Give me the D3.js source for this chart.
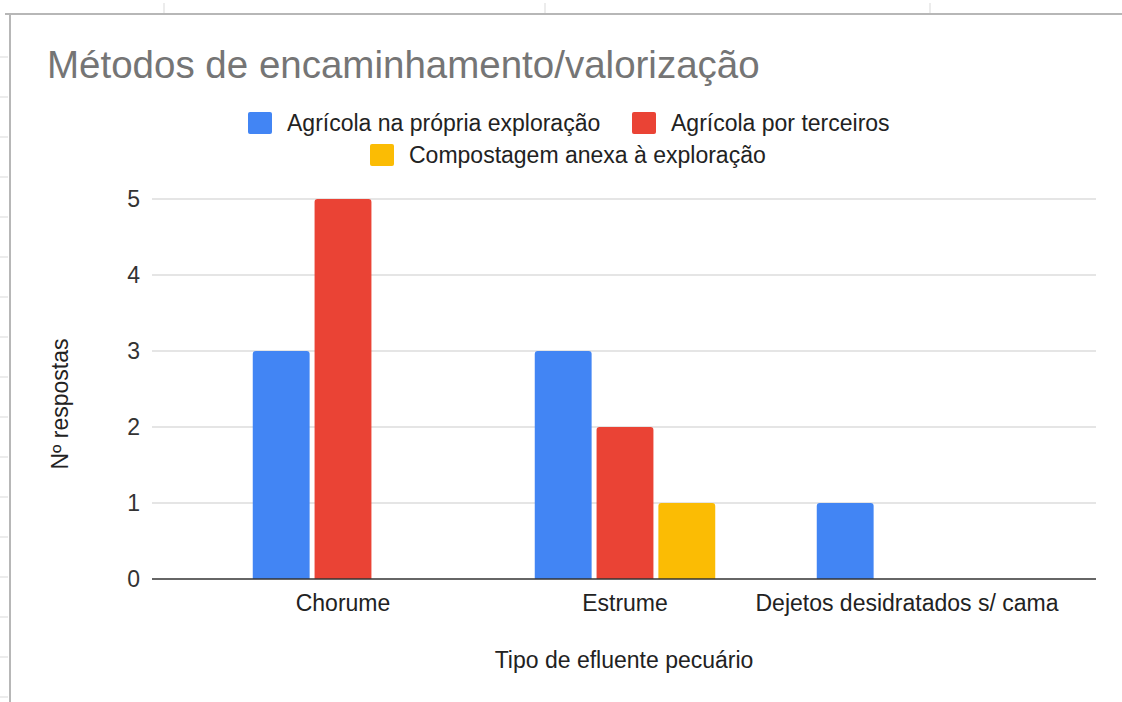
<!DOCTYPE html>
<html>
<head>
<meta charset="utf-8">
<script src="https://cdn.jsdelivr.net/npm/d3@7"></script>
<style>
  html, body { margin: 0; padding: 0; background: #fff; }
  svg { display: block; font-family: "Liberation Sans", Arial, sans-serif; }
</style>
</head>
<body>
<svg class="chart"></svg>
<script>
var categories = ["Chorume", "Estrume", "Dejetos desidratados s/ cama"];
var seriesNames = ["Agrícola na própria exploração", "Agrícola por terceiros", "Compostagem anexa à exploração"];
var seriesColors = ["#4285F4", "#EA4335", "#FBBC04"];
var agricolaPropria = [3, 3, 1];
var agricolaTerceiros = [5, 2, 0];
var compostagem = [0, 1, 0];
var yTicks = [0, 1, 2, 3, 4, 5];

var W = 1122, H = 702;
var chart = d3.select('.chart').attr('width', W).attr('height', H);

// spreadsheet background bits
var sheet = chart.append('g');
sheet.append('line').attr('x1', 5).attr('x2', W).attr('y1', 14).attr('y2', 14)
	.attr('stroke', '#b7b7b7').attr('stroke-width', 2);
sheet.append('line').attr('x1', 10).attr('x2', 10).attr('y1', 14).attr('y2', H)
	.attr('stroke', '#b7b7b7').attr('stroke-width', 2);
[164, 545, 930].forEach(function(x){
	sheet.append('line').attr('x1', x).attr('x2', x).attr('y1', 3).attr('y2', 13)
		.attr('stroke', '#d9d9d9').attr('stroke-width', 1);
});
d3.range(57, H, 40).forEach(function(y){
	sheet.append('line').attr('x1', 0).attr('x2', 8).attr('y1', y).attr('y2', y)
		.attr('stroke', '#d9d9d9').attr('stroke-width', 1);
});

var plotL = 152, plotR = 1096, plotT = 199, plotB = 579;

var y = d3.scaleLinear().domain([0, 5]).range([plotB, plotT]);
var x = d3.scaleBand().domain(categories).range([202, 1048]).paddingInner(0.36).paddingOuter(0.18);
var xs = d3.scaleBand().domain(seriesNames).range([0, x.bandwidth()]).paddingInner(0.08);

// title
chart.append('text')
	.attr('x', 47).attr('y', 78)
	.attr('fill', '#757575')
	.attr('font-size', 38.5)
	.text("Métodos de encaminhamento/valorização");

// legend
var legendItems = [
	{name: seriesNames[0], color: seriesColors[0], x: 248, y: 112},
	{name: seriesNames[1], color: seriesColors[1], x: 632, y: 112},
	{name: seriesNames[2], color: seriesColors[2], x: 370, y: 144}
];
var leg = chart.append('g').selectAll('g').data(legendItems).enter().append('g')
	.attr('transform', function(d){ return 'translate(' + d.x + ',' + d.y + ')'; });
leg.append('rect').attr('width', 24).attr('height', 22).attr('rx', 2)
	.attr('fill', function(d){ return d.color; });
leg.append('text').attr('x', 39).attr('y', 19)
	.attr('font-size', 23).attr('fill', '#222')
	.text(function(d){ return d.name; });

// gridlines
chart.append('g').selectAll('line')
	.data(yTicks.slice(1))
	.enter().append('line')
	.attr('x1', plotL).attr('x2', plotR)
	.attr('y1', function(d){ return y(d); })
	.attr('y2', function(d){ return y(d); })
	.attr('stroke', '#cccccc').attr('stroke-width', 1.2);

// y tick labels
chart.append('g').selectAll('text')
	.data(yTicks)
	.enter().append('text')
	.attr('x', 140)
	.attr('y', function(d){ return y(d); })
	.attr('dy', '0.35em')
	.attr('text-anchor', 'end')
	.attr('font-size', 23).attr('fill', '#333')
	.text(function(d){ return d; });

// bars
var seriesValues = [agricolaPropria, agricolaTerceiros, compostagem];
var barData = [];
categories.forEach(function(c, i){
	seriesNames.forEach(function(s, j){
		barData.push({cat: c, series: s, value: seriesValues[j][i], color: seriesColors[j]});
	});
});

function topRounded(x0, y0, w, h, r){
	r = Math.min(r, h);
	return 'M' + x0 + ',' + (y0 + h) +
		'V' + (y0 + r) +
		'Q' + x0 + ',' + y0 + ' ' + (x0 + r) + ',' + y0 +
		'H' + (x0 + w - r) +
		'Q' + (x0 + w) + ',' + y0 + ' ' + (x0 + w) + ',' + (y0 + r) +
		'V' + (y0 + h) + 'Z';
}

chart.append('g').selectAll('path')
	.data(barData.filter(function(d){ return d.value > 0; }))
	.enter().append('path')
	.attr('fill', function(d){ return d.color; })
	.attr('d', function(d){
		var bx = x(d.cat) + xs(d.series);
		return topRounded(bx, y(d.value), xs.bandwidth(), y(0) - y(d.value), 3);
	});

// baseline
chart.append('line')
	.attr('x1', plotL).attr('x2', plotR)
	.attr('y1', y(0)).attr('y2', y(0))
	.attr('stroke', '#333').attr('stroke-width', 1.6);

// x labels
chart.append('g').selectAll('text')
	.data(categories)
	.enter().append('text')
	.attr('x', function(d){ return x(d) + x.bandwidth() / 2; })
	.attr('y', 611)
	.attr('text-anchor', 'middle')
	.attr('font-size', 23).attr('fill', '#222')
	.text(function(d){ return d; });

// axis titles
chart.append('text')
	.attr('x', 624).attr('y', 668)
	.attr('text-anchor', 'middle')
	.attr('font-size', 23).attr('fill', '#222')
	.text("Tipo de efluente pecuário");

chart.append('text')
	.attr('transform', 'translate(68,404) rotate(-90)')
	.attr('text-anchor', 'middle')
	.attr('font-size', 23).attr('fill', '#222')
	.text("Nº respostas");
</script>
</body>
</html>
